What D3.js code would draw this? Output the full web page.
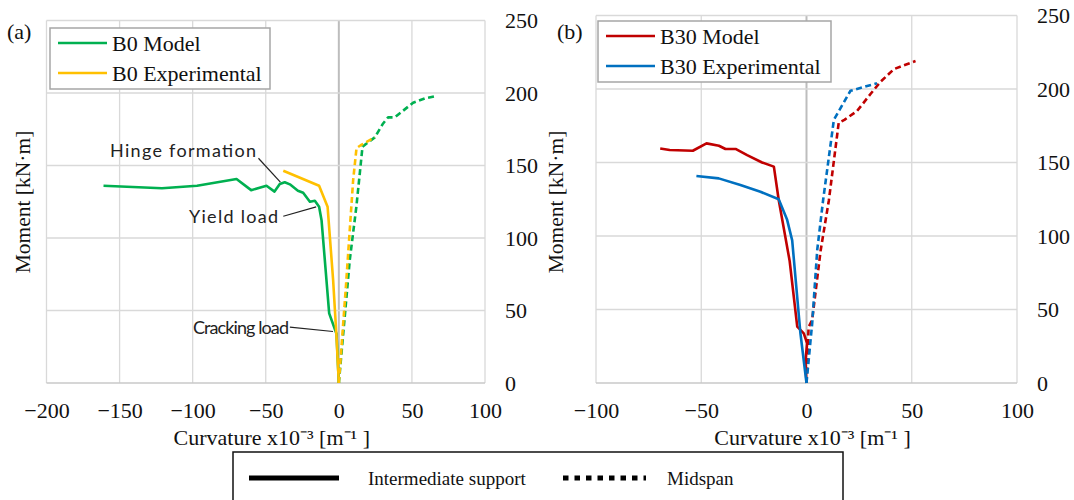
<!DOCTYPE html>
<html>
<head>
<meta charset="utf-8">
<script src="https://cdn.jsdelivr.net/npm/d3@7"></script>
<style>
body { margin: 0; background: #fff; }
svg { display: block; }
</style>
</head>
<body>
<div id="chart"></div>
<script>
var yTicks = [0, 50, 100, 150, 200, 250];
var xTicksA = [-200, -150, -100, -50, 0, 50, 100];
var xTicksB = [-100, -50, 0, 50, 100];

// [curvature x10^-3, moment kN.m]
var b0ModelSupport = [[-161,136],[-121,134.3],[-97,136],[-70,140.7],[-60,133],[-49.5,136],[-44,132],[-40.4,137.2],
  [-37,138.4],[-33.5,137],[-28,132.6],[-24.4,131.2],[-19.8,125],[-16.4,125.7],[-13.5,121.6],[-11.8,112],
  [-6.6,48],[-1.6,34],[0,0]];
var b0ExpSupport = [[-38,146.4],[-13.5,136],[-7.7,121.6],[-3.9,71],[-1.6,32],[0,0]];
var b0ModelMid = [[0,0],[3,34],[7.5,85],[12,121.6],[16.2,163],[24.6,169.4],[30.3,179],[33.7,183.2],
  [38.3,183.2],[50.8,193.3],[58.8,196.3],[66.8,198]];
var b0ExpMid = [[0,0],[4.8,66],[9.8,140],[12.1,162],[15,164],[24.6,169.4]];

var b30ModelSupport = [[-69.5,159.5],[-65,158.5],[-54,158],[-47.5,163],[-41.6,161.4],[-38.5,159.2],[-33.7,159.2],
  [-28.2,155],[-21.1,150],[-15.5,147.2],[-13.2,124.5],[-8,83],[-4.4,38.3],[-1.3,33.8],[0.3,27],[-0.5,15],[0,0]];
var b30ExpSupport = [[-52.3,140.8],[-41.7,139.2],[-31.4,134.7],[-21.9,130.1],[-13.2,125],[-9.2,111],[-6.8,97],
  [-2.9,34],[0,0]];
var b30ModelMid = [[0,0],[1,38],[2.7,43],[6.7,90],[10.6,124],[15.3,177],[18,179],[24,185],[30.4,196.6],
  [35.2,205],[41.5,213.5],[46,216],[51.8,219]];
var b30ExpMid = [[0,0],[2.7,40.6],[5.1,90.5],[7.9,124.5],[13,179],[20.9,198.8],[33.5,203.9]];

var serif = "Liberation Serif";
var sans = "Lato";

var svg = d3.select("#chart").append("svg")
    .attr("width", 1074)
    .attr("height", 500);

function drawPanel(p) {
  var x = d3.scaleLinear().domain([p.xTicks[0], p.xTicks[p.xTicks.length - 1]]).range(p.xr);
  var y = d3.scaleLinear().domain([0, 250]).range(p.yr);
  var g = svg.append("g");

  // grid
  g.selectAll(".vg").data(p.xTicks).enter().append("line")
    .attr("x1", function(d) { return x(d); }).attr("x2", function(d) { return x(d); })
    .attr("y1", y(0)).attr("y2", y(250))
    .attr("stroke", function(d) { return d == 0 ? "#bdbdbd" : "#d9d9d9"; })
    .attr("stroke-width", function(d) { return d == 0 ? 2 : 1.3; });
  g.selectAll(".hg").data(yTicks).enter().append("line")
    .attr("x1", p.xr[0]).attr("x2", p.xr[1])
    .attr("y1", function(d) { return y(d); }).attr("y2", function(d) { return y(d); })
    .attr("stroke", function(d) { return d == 0 ? "#c8c8c8" : "#d9d9d9"; })
    .attr("stroke-width", function(d) { return d == 0 ? 1.6 : 1.3; });

  var xa = g.append("g")
    .attr("transform", "translate(0," + y(0) + ")")
    .call(d3.axisBottom(x).tickValues(p.xTicks).tickSize(0).tickPadding(19));
  var ya = g.append("g")
    .attr("transform", "translate(" + p.yLabelX + ",0)")
    .call(d3.axisRight(y).tickValues(yTicks).tickSize(0).tickPadding(0));
  [xa, ya].forEach(function(a) {
    a.attr("font-family", serif).attr("font-size", 22);
    a.select(".domain").remove();
    a.selectAll("text").attr("font-family", serif).attr("font-size", 22).attr("fill", "#111");
  });

  g.append("text")
    .attr("x", (p.xr[0] + p.xr[1]) / 2 + 6).attr("y", 445)
    .attr("text-anchor", "middle")
    .attr("font-family", serif).attr("font-size", 22).attr("fill", "#111")
    .text("Curvature x10\u207B\u00B3 [m\u207B\u00B9 ]");
  g.append("text")
    .attr("transform", "translate(" + p.titleX + ",202) rotate(-90)")
    .attr("text-anchor", "middle")
    .attr("font-family", serif).attr("font-size", 21.5).attr("fill", "#111")
    .text("Moment [kN\u00B7m]");
  g.append("text")
    .attr("x", p.tagX).attr("y", 39)
    .attr("font-family", serif).attr("font-size", 22).attr("fill", "#111")
    .text(p.tag);

  var line = d3.line()
    .x(function(d) { return x(d[0]); })
    .y(function(d) { return y(d[1]); });

  p.series.forEach(function(s) {
    g.append("path")
      .attr("d", line(s.data))
      .attr("fill", "none")
      .attr("stroke", s.color)
      .attr("stroke-width", 2.6)
      .attr("stroke-linejoin", "round")
      .attr("stroke-dasharray", s.dashed ? "6,3.5" : null);
  });

  // legend
  var lg = g.append("g").attr("transform", "translate(" + p.legend[0] + "," + p.legend[1] + ")");
  lg.append("rect")
    .attr("width", p.legend[2]).attr("height", 61)
    .attr("fill", "#fff").attr("stroke", "#a6a6a6").attr("stroke-width", 1.5);
  p.names.forEach(function(n, i) {
    lg.append("line")
      .attr("x1", 8).attr("x2", 57).attr("y1", 15 + i * 30).attr("y2", 15 + i * 30)
      .attr("stroke", n.color).attr("stroke-width", 2.6);
    lg.append("text")
      .attr("x", 62).attr("y", 15 + i * 30).attr("dy", "0.35em")
      .attr("font-family", serif).attr("font-size", 22).attr("fill", "#111")
      .text(n.name);
  });
  return { x: x, y: y, g: g };
}

var pa = drawPanel({
  xTicks: xTicksA, xr: [46.5, 485], yr: [383, 20.5], yLabelX: 505, titleX: 30, tagX: 7, tag: "(a)",
  legend: [50, 28, 220],
  names: [{ name: "B0 Model", color: "#00b050" }, { name: "B0 Experimental", color: "#ffc000" }],
  series: [
    { data: b0ModelSupport, color: "#00b050" },
    { data: b0ModelMid, color: "#00b050", dashed: true },
    { data: b0ExpSupport, color: "#ffc000" },
    { data: b0ExpMid, color: "#ffc000", dashed: true }
  ]
});

drawPanel({
  xTicks: xTicksB, xr: [596, 1017], yr: [383, 15.5], yLabelX: 1037, titleX: 563, tagX: 557, tag: "(b)",
  legend: [598, 21, 233],
  names: [{ name: "B30 Model", color: "#c00000" }, { name: "B30 Experimental", color: "#0070c0" }],
  series: [
    { data: b30ModelSupport, color: "#c00000" },
    { data: b30ModelMid, color: "#c00000", dashed: true },
    { data: b30ExpSupport, color: "#0070c0" },
    { data: b30ExpMid, color: "#0070c0", dashed: true }
  ]
});

// annotations on panel (a)
var notes = [
  { text: "Hinge formation", tx: 110, w: 146, ty: 151, from: [-55, 155], to: [-40, 138.5] },
  { text: "Yield load", tx: 189, w: 89, ty: 217, from: [-38, 115], to: [-15.5, 121.5] },
  { text: "Cracking load", tx: 193, w: 96, ty: 328, from: [-33.5, 38.5], to: [-4, 35.5] }
];
notes.forEach(function(n) {
  pa.g.append("line")
    .attr("x1", pa.x(n.from[0])).attr("y1", pa.y(n.from[1]))
    .attr("x2", pa.x(n.to[0])).attr("y2", pa.y(n.to[1]))
    .attr("stroke", "#222").attr("stroke-width", 1.2);
  pa.g.append("text")
    .attr("x", n.tx).attr("y", n.ty).attr("dy", "0.35em")
    .attr("textLength", n.w).attr("lengthAdjust", "spacing")
    .attr("font-family", sans).attr("font-size", 18).attr("fill", "#222")
    .text(n.text);
});

// bottom legend (line style)
var bl = svg.append("g");
bl.append("rect")
  .attr("x", 233).attr("y", 452).attr("width", 610).attr("height", 60)
  .attr("fill", "#fff").attr("stroke", "#111").attr("stroke-width", 1.5);
bl.append("line").attr("x1", 249).attr("x2", 339).attr("y1", 478).attr("y2", 478)
  .attr("stroke", "#000").attr("stroke-width", 5);
bl.append("line").attr("x1", 563).attr("x2", 646).attr("y1", 478).attr("y2", 478)
  .attr("stroke", "#000").attr("stroke-width", 5).attr("stroke-dasharray", "5.5,6");
bl.append("text").attr("x", 368).attr("y", 478).attr("dy", "0.35em")
  .attr("font-family", serif).attr("font-size", 19).attr("fill", "#111")
  .text("Intermediate support");
bl.append("text").attr("x", 667).attr("y", 478).attr("dy", "0.35em")
  .attr("font-family", serif).attr("font-size", 19).attr("fill", "#111")
  .text("Midspan");
</script>
</body>
</html>
